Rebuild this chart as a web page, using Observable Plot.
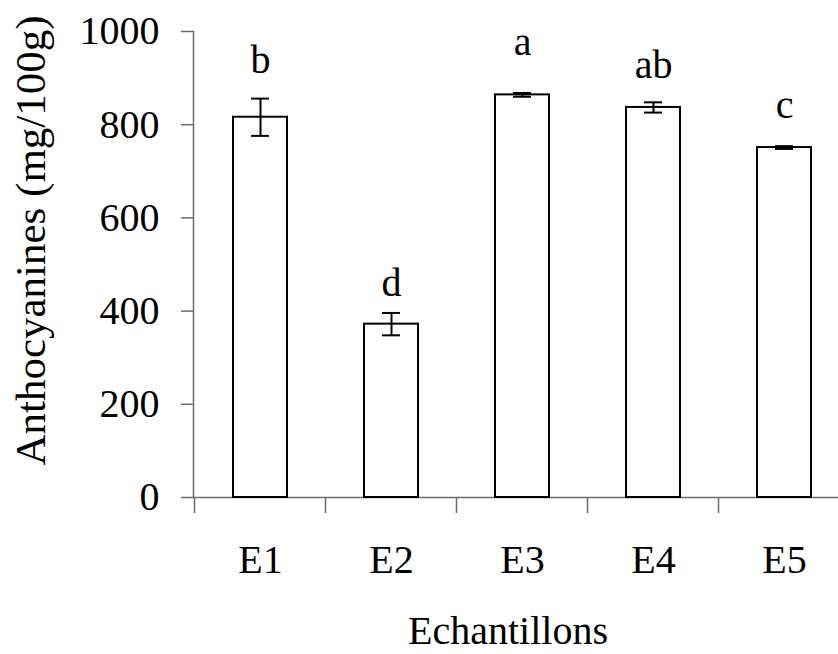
<!DOCTYPE html>
<html>
<head>
<meta charset="utf-8">
<script src="https://cdn.jsdelivr.net/npm/d3@7"></script>
<script src="https://cdn.jsdelivr.net/npm/@observablehq/plot@0.6"></script>
<style>
  html, body { margin: 0; padding: 0; background: #fff; }
  #chart svg { display: block; }
  #chart svg, #chart svg text, #chart svg g {
    font-family: "Liberation Serif", "Times New Roman", serif !important;
  }
</style>
</head>
<body>
<div id="chart"></div>
<script>
const categories = ["E1", "E2", "E3", "E4", "E5"];
const means = [816, 372, 864, 837, 751];
const errors = [40, 24, 4, 11, 3];
const letters = ["b", "d", "a", "ab", "c"];
const letterY = [939, 459, 976, 927, 841];
const yTicks = [0, 200, 400, 600, 800, 1000];
const yLabel = "Anthocyanines (mg/100g)";
const xLabel = "Echantillons";

const data = categories.map((c, i) => ({
  cat: c, mean: means[i], lo: means[i] - errors[i], hi: means[i] + errors[i],
  letter: letters[i], ly: letterY[i]
}));

const font = "Liberation Serif, Times New Roman, serif";
const axisColor = "#6b6b6b";

const plot = Plot.plot({
  width: 838,
  height: 654,
  marginTop: 31,
  marginBottom: 157,
  marginLeft: 193,
  marginRight: 0,
  style: { fontFamily: font, color: "black", background: "white" },
  x: { type: "band", domain: categories, range: [193, 850], paddingInner: 0.59, paddingOuter: 0.295, align: 0.5, axis: null },
  y: { domain: [0, 1000], axis: null },
  marks: [
    Plot.frame({ anchor: "left", stroke: axisColor, strokeWidth: 1.5 }),
    Plot.ruleY([0], { stroke: axisColor, strokeWidth: 1.5 }),
    Plot.axisY({ ticks: yTicks, tickSize: 12, tickPadding: 22, fontSize: 40, fontFamily: font, label: null, stroke: axisColor, strokeWidth: 1.5, fill: "black", tickFormat: d => String(d) }),
    Plot.axisX({ tickSize: 0, tickPadding: 47, fontSize: 40, fontFamily: font, label: null, fill: "black" }),
    Plot.barY(data, { x: "cat", y: "mean", fill: "white", stroke: "black", strokeWidth: 2 }),
    Plot.ruleX(data, { x: "cat", y1: "lo", y2: "hi", stroke: "black", strokeWidth: 2 }),
    Plot.tickY(data, { x: "cat", y: "hi", stroke: "black", strokeWidth: 2, insetLeft: 18, insetRight: 18 }),
    Plot.tickY(data, { x: "cat", y: "lo", stroke: "black", strokeWidth: 2, insetLeft: 18, insetRight: 18 }),
    Plot.text(data, { x: "cat", y: "ly", text: "letter", fontSize: 40, fontFamily: font, fill: "black" }),
    Plot.text([xLabel], { frameAnchor: "bottom", text: d => d, textAnchor: "middle", lineAnchor: "top", dy: 118, dx: -8, fontSize: 40, fontFamily: font, fill: "black" }),
    Plot.text([yLabel], { frameAnchor: "left", text: d => d, textAnchor: "middle", lineAnchor: "middle", rotate: -90, dx: -162, dy: -24, fontSize: 43, fontFamily: font, fill: "black" })
  ]
});

// category separator ticks below the x axis, placed from the band scale
const sx = plot.scale("x");
const sy = plot.scale("y");
const y0 = sy.apply(0);
const gap = (sx.step - sx.bandwidth) / 2;
const bounds = categories.map(c => sx.apply(c) - gap);
d3.select(plot).append("g")
  .attr("stroke", axisColor)
  .attr("stroke-width", 1.5)
  .selectAll("line")
  .data(bounds)
  .join("line")
  .attr("x1", d => d).attr("x2", d => d)
  .attr("y1", y0).attr("y2", y0 + 16);

document.getElementById("chart").appendChild(plot);
</script>
</body>
</html>
